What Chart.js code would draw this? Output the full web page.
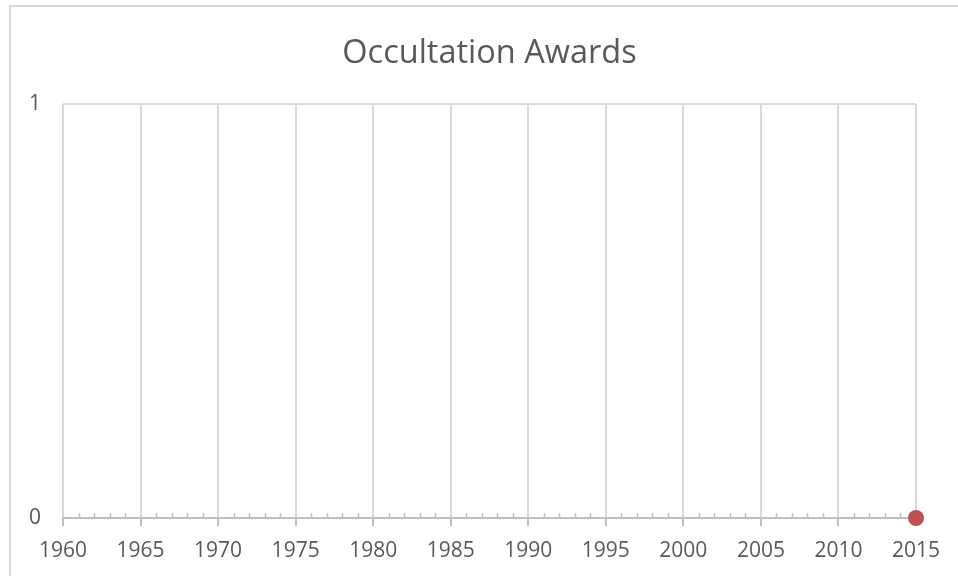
<!DOCTYPE html>
<html>
<head>
<meta charset="utf-8">
<title>Occultation Awards</title>
<script src="https://cdn.jsdelivr.net/npm/chart.js@4.4.1/dist/chart.umd.min.js"></script>
<style>
  html, body { margin: 0; padding: 0; background: #fff; overflow: hidden; }
  #frame {
    position: absolute;
    left: 9px;
    top: 5px;
    width: 960px;
    height: 590px;
    border-left: 2px solid #d9d9d9;
    border-top: 2px solid #d9d9d9;
  }
  #awardsChart { display: block; }
</style>
</head>
<body>
<div id="frame">
  <canvas id="awardsChart" width="947" height="569"></canvas>
</div>
<script>
// award count per year (only one year recorded so far)
const awardYears = [2015];
const awardCounts = [0];

// axis ticks
const yearTicks = [1960, 1965, 1970, 1975, 1980, 1985, 1990, 1995, 2000, 2005, 2010, 2015];
const countTicks = [0, 1];

const TEXT = '#595959';
const GRID = '#d9d9d9';
const AXIS = '#bfbfbf';
const FONT = '"Open Sans", "Liberation Sans", sans-serif';

// small tick marks for every year, drawn upward from the axis line
const minorTicks = {
  id: 'minorTicks',
  beforeDatasetsDraw(chart) {
    const x = chart.scales.x;
    const bottom = chart.chartArea.bottom;
    const ctx = chart.ctx;
    ctx.save();
    ctx.strokeStyle = AXIS;
    ctx.lineWidth = 1.5;
    ctx.beginPath();
    for (let yr = yearTicks[0]; yr <= yearTicks[yearTicks.length - 1]; yr++) {
      if (yearTicks.includes(yr)) continue;
      const px = Math.round(x.getPixelForValue(yr)) + 0.5;
      ctx.moveTo(px, bottom);
      ctx.lineTo(px, bottom - 5);
    }
    ctx.stroke();
    ctx.restore();
  },
};

const points = awardYears.map((yr, i) => ({ x: yr, y: awardCounts[i] }));

new Chart(document.getElementById('awardsChart'), {
  type: 'scatter',
  data: {
    datasets: [
      {
        label: 'Awards',
        data: points,
        backgroundColor: '#c0504d',
        borderWidth: 0,
        pointRadius: 8,
        pointHoverRadius: 8,
        clip: false,
      },
    ],
  },
  plugins: [minorTicks],
  options: {
    responsive: false,
    animation: false,
    devicePixelRatio: 1,
    layout: { padding: { left: 10, right: 42, top: 0, bottom: 0 } },
    plugins: {
      legend: { display: false },
      tooltip: { enabled: false },
      title: {
        display: true,
        // sized to the plot area so the title centres over the plot
        fullSize: false,
        text: 'Occultation Awards',
        color: TEXT,
        font: { family: FONT, size: 32.5, weight: 'normal' },
        padding: { top: 27, bottom: 31 },
      },
    },
    scales: {
      x: {
        type: 'linear',
        min: yearTicks[0],
        max: yearTicks[yearTicks.length - 1],
        afterBuildTicks: (scale) => {
          scale.ticks = yearTicks.map((v) => ({ value: v }));
        },
        afterFit: (scale) => {
          scale.height = 58;
        },
        grid: {
          color: GRID,
          lineWidth: 2,
          tickColor: AXIS,
          tickLength: 8,
        },
        border: { color: AXIS, width: 2 },
        ticks: {
          color: TEXT,
          font: { family: FONT, size: 21 },
          padding: 12,
          maxRotation: 0,
          autoSkip: false,
          callback: (v) => String(v),
        },
      },
      y: {
        min: 0,
        max: 1,
        afterBuildTicks: (scale) => {
          scale.ticks = countTicks.map((v) => ({ value: v }));
        },
        afterFit: (scale) => {
          scale.width = 42;
        },
        grid: {
          color: (c) => (c.tick && c.tick.value === 0 ? 'transparent' : GRID),
          lineWidth: 2,
          drawTicks: false,
        },
        border: { display: false },
        ticks: {
          color: TEXT,
          font: { family: FONT, size: 21 },
          padding: 22,
        },
      },
    },
  },
});
</script>
</body>
</html>
